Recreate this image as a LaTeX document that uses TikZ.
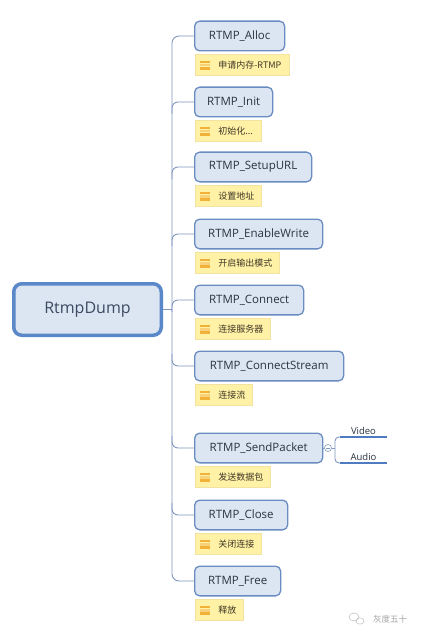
\documentclass[tikz,border=0pt]{standalone}
\usepackage{fontspec}
\setmainfont{Open Sans}
\newfontfamily\cjk{Noto Sans CJK SC}
\usetikzlibrary{calc}
\definecolor{boxfill}{HTML}{DCE6F3}
\definecolor{rootline}{HTML}{5A88C8}
\definecolor{topicline}{HTML}{6A8CC2}
\definecolor{roottext}{HTML}{3B4A60}
\definecolor{topictext}{HTML}{2A3340}
\definecolor{notefill}{HTML}{FFF2A6}
\definecolor{noteline}{HTML}{F3E3A0}
\definecolor{notetext}{HTML}{3F3626}
\definecolor{iconc}{HTML}{F2B23A}
\definecolor{iconl}{HTML}{F8D27A}
\definecolor{connc}{HTML}{8198BE}
\definecolor{ulc}{HTML}{4F7CC0}
\begin{document}
\begin{tikzpicture}[x=1pt,y=-1pt,
  rootbox/.style={draw=rootline, line width=3.5pt, fill=boxfill, rounded corners=8pt,
    minimum width=147.5pt, minimum height=51.5pt, inner sep=0pt,
    font=\fontsize{16}{18}\selectfont, text=roottext},
  topic/.style={draw=topicline, line width=1.3pt, fill=boxfill, rounded corners=5pt,
    minimum height=29.7pt, anchor=west, inner sep=0pt,
    font=\fontsize{11.5}{14}\selectfont, text=topictext},
  notebox/.style={draw=noteline, line width=0.6pt, fill=notefill, minimum height=21pt,
    anchor=north west, inner xsep=0pt, inner ysep=0pt,
    font=\cjk\fontsize{9}{10}\selectfont, text=notetext,
    path picture={
      \fill[iconc] ($(path picture bounding box.north west)+(5,6.5)$) rectangle ++(10,2.4);
      \fill[iconl] ($(path picture bounding box.north west)+(5,9.8)$) rectangle ++(10,2.4);
      \fill[iconc] ($(path picture bounding box.north west)+(5,13.1)$) rectangle ++(10,2.4);
    }},
  conn/.style={draw=connc, line width=0.9pt},
  leaf/.style={font=\fontsize{9.5}{11}\selectfont, text=topictext, inner sep=2pt, minimum width=47pt, anchor=south},
  ul/.style={draw=ulc, line width=2pt}
]
\useasboundingbox (0,0) rectangle (425,639);
\fill[white] (0,0) rectangle (425,639);

\coordinate (trunk) at (172,0);

% root
\node[rootbox] (root) at (87.5,309.5) {RtmpDump};

% topics
\node[topic, minimum width=90pt]  (alloc)   at (194,36)  {RTMP\_Alloc};
\node[topic, minimum width=78pt]  (init)    at (194,102) {RTMP\_Init};
\node[topic, minimum width=117pt] (setup)   at (194,167) {RTMP\_SetupURL};
\node[topic, minimum width=128pt] (enable)  at (194,234) {RTMP\_EnableWrite};
\node[topic, minimum width=109pt] (connect) at (194,300) {RTMP\_Connect};
\node[topic, minimum width=149pt] (cstream) at (194,366) {RTMP\_ConnectStream};
\node[topic, minimum width=128pt] (send)    at (194,448) {RTMP\_SendPacket};
\node[topic, minimum width=93pt]  (close)   at (194,515) {RTMP\_Close};
\node[topic, minimum width=86pt]  (free)    at (194,581) {RTMP\_Free};

% notes
\node[notebox] (n1) at ($(alloc.south west)+(1,2.5)$)   {\hspace*{23pt}申请内存-RTMP\hspace*{8pt}};
\node[notebox] (n2) at ($(init.south west)+(1,2.5)$)    {\hspace*{23pt}初始化...\hspace*{8pt}};
\node[notebox] (n3) at ($(setup.south west)+(1,2.5)$)   {\hspace*{23pt}设置地址\hspace*{7pt}};
\node[notebox] (n4) at ($(enable.south west)+(1,2.5)$)  {\hspace*{23pt}开启输出模式\hspace*{7pt}};
\node[notebox] (n5) at ($(connect.south west)+(1,2.5)$) {\hspace*{23pt}连接服务器\hspace*{7pt}};
\node[notebox] (n6) at ($(cstream.south west)+(1,2.5)$) {\hspace*{23pt}连接流\hspace*{7pt}};
\node[notebox] (n7) at ($(send.south west)+(1,2.5)$)    {\hspace*{23pt}发送数据包\hspace*{7pt}};
\node[notebox] (n8) at ($(close.south west)+(1,2.5)$)   {\hspace*{23pt}关闭连接\hspace*{7pt}};
\node[notebox] (n9) at ($(free.south west)+(1,2.5)$)    {\hspace*{23pt}释放\hspace*{7pt}};

% connectors
\draw[conn] (root.east) -- (root.east -| trunk);
\draw[conn, rounded corners=7pt] (alloc.west) -| (free.west -| trunk) -- (free.west);
\foreach \c in {init,setup,enable,connect}
  \draw[conn, rounded corners=6pt] ($(\c.west -| trunk)+(0,12)$) |- (\c.west);
\foreach \c in {cstream,send,close}
  \draw[conn, rounded corners=6pt] ($(\c.west -| trunk)+(0,-12)$) |- (\c.west);

% SendPacket sub-branches
\node[draw=connc, line width=0.6pt, circle, minimum size=7pt, inner sep=0pt, fill=white] (col) at (328,448) {};
\draw[connc, line width=0.6pt] ($(col.center)+(-2,0)$) -- ($(col.center)+(2,0)$);
\draw[conn] (send.east) -- (col.west);
\coordinate (bx) at (335,448);
\draw[conn] (col.east) -- (bx);
\node[leaf] (video) at (363.5,437) {Video};
\node[leaf] (audio) at (363.5,463) {Audio};
\draw[ul] (video.south west) -- (video.south east);
\draw[ul] (audio.south west) -- (audio.south east);
\draw[conn, rounded corners=4pt] (video.south west) -| (bx) |- (audio.south west);

% watermark
\node[font=\cjk\fontsize{8.5}{10}\selectfont, text=black!35] (wm) at (390,619) {灰度五十};
\draw[black!25, line width=0.5pt] (354,617) ellipse (5pt and 4pt);
\draw[black!25, line width=0.5pt] (360,621) ellipse (4pt and 3.2pt);
\end{tikzpicture}
\end{document}
